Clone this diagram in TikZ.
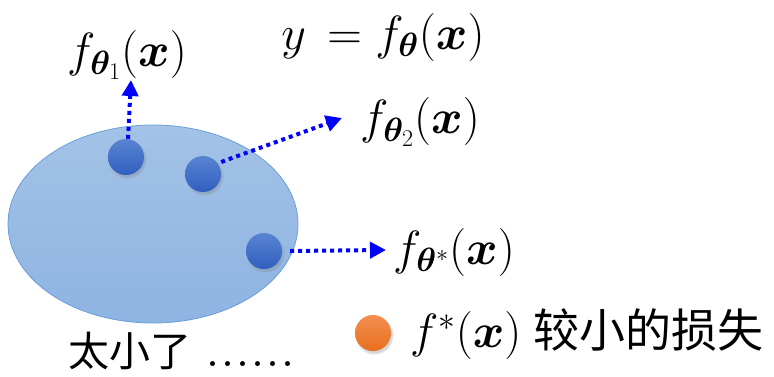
\RequirePackage{fix-cm}
\documentclass[tikz,border=0pt]{standalone}
\usepackage{amsmath,bm}
\usepackage{fontspec}
\newfontfamily\cjk{Noto Sans CJK SC}
\usetikzlibrary{arrows.meta,shapes.geometric,shadows}
\definecolor{setfill}{HTML}{A3C2E6}
\definecolor{setfillb}{HTML}{8EB4E2}
\definecolor{setline}{HTML}{6A9FD8}
\definecolor{dottop}{HTML}{5A84D2}
\definecolor{dotbot}{HTML}{2F5FBF}
\definecolor{ortop}{HTML}{F39050}
\definecolor{orbot}{HTML}{E86E1E}
\definecolor{arrblue}{HTML}{0000FF}
\tikzset{
  setshape/.style={ellipse, draw=setline, line width=0.8pt, top color=setfill, bottom color=setfillb, minimum width=290pt, minimum height=198pt, inner sep=0pt},
  bluedot/.style={circle, minimum size=36pt, inner sep=0pt, top color=dottop, bottom color=dotbot, circular drop shadow={shadow xshift=1pt, shadow yshift=-2pt, opacity=0.35}},
  orangedot/.style={circle, minimum size=36pt, inner sep=0pt, top color=ortop, bottom color=orbot, circular drop shadow={shadow xshift=1pt, shadow yshift=-2pt, opacity=0.35}},
  dotarrow/.style={draw=arrblue, line width=4pt, dash pattern=on 4pt off 4pt, -{Triangle[length=16pt,width=16pt]}},
  mathlbl/.style={inner sep=0pt, font=\fontsize{48}{54}\selectfont},
}
\begin{document}
\begin{tikzpicture}[x=1pt,y=-1pt]
\useasboundingbox (0,0) rectangle (774,376);
\node[setshape] (set) at (153,224) {};
\node[bluedot] (d1) at (126,157) {};
\node[bluedot] (d2) at (203,174) {};
\node[bluedot] (d3) at (264,251) {};
\node[orangedot] (od) at (373,333) {};

\node[mathlbl] (y) at (383,37) {$y\,=f_{\bm{\theta}}(\bm{x})$};
\node[mathlbl] (l1) at (127,55) {$f_{\bm{\theta}_1}(\bm{x})$};
\node[mathlbl] (l2) at (420,122) {$f_{\bm{\theta}_2}(\bm{x})$};
\node[mathlbl] (l3) at (454,252) {$f_{\bm{\theta}^*}(\bm{x})$};
\node[mathlbl, anchor=west] (lf) at (410,334) {$f^*(\bm{x})$\kern12pt{\cjk\fontsize{46}{50}\selectfont 较小的损失}};
\node[inner sep=0pt, anchor=base west] (tx) at (68,366) {{\cjk\fontsize{41}{44}\selectfont 太小了}\kern14pt{\fontsize{60}{60}\selectfont......}};

\coordinate (t1) at (131,80);
\coordinate (t2) at (342,118);
\coordinate (t3) at (386,250);
\draw[dotarrow] (d1.north) ++(2,0) -- (t1);
\draw[dotarrow] (d2.east) ++(0,-12) -- (t2);
\draw[dotarrow] (d3.east) ++(8,0) -- (t3);
\end{tikzpicture}
\end{document}
